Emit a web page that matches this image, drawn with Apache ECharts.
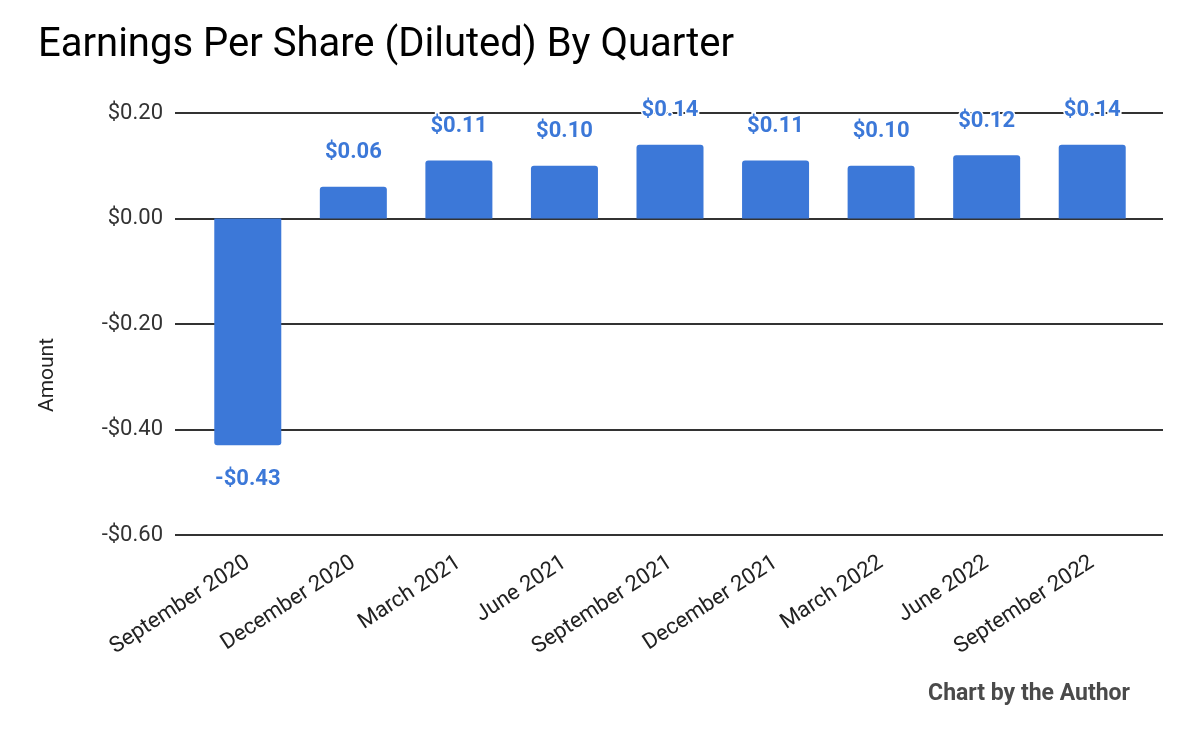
<!DOCTYPE html>
<html>
<head>
<meta charset="utf-8">
<script src="https://cdn.jsdelivr.net/npm/echarts@6/dist/echarts.min.js"></script>
<style>
  html, body { margin: 0; padding: 0; background: #fff; }
</style>
</head>
<body>
<div id="chart" style="width: 1200px; height: 742px;"></div>
<script>
// quarters and diluted EPS
const quarters = ['September 2020', 'December 2020', 'March 2021', 'June 2021', 'September 2021',
  'December 2021', 'March 2022', 'June 2022', 'September 2022'];
const eps = [-0.43, 0.06, 0.11, 0.10, 0.14, 0.11, 0.10, 0.12, 0.14];
const yMin = -0.6;
const yMax = 0.2;
const yStep = 0.2;

const blue = '#3c78d8';

function money(v) {
  const s = '$' + Math.abs(v).toFixed(2);
  return v < 0 ? '-' + s : s;
}

const myChart = echarts.init(document.getElementById('chart'));

const barData = eps.map(v => ({
  value: v,
  itemStyle: { borderRadius: v >= 0 ? [3, 3, 0, 0] : [0, 0, 3, 3] },
  label: { position: v >= 0 ? 'top' : 'bottom' }
}));

const option = {
  backgroundColor: '#fff',
  animation: false,
  title: [{
    text: 'Earnings Per Share (Diluted) By Quarter',
    left: 33,
    top: 21,
    textStyle: { fontFamily: 'Roboto', fontSize: 40, fontWeight: 'normal', color: '#000' }
  }, {
    text: 'Chart by the Author',
    right: 65,
    top: 678,
    textStyle: { fontFamily: 'Roboto', fontSize: 23, fontWeight: 'bold', color: '#4a4a4a' }
  }],
  graphic: [{
    // y axis title sits a bit below the middle of the plot
    type: 'text',
    x: 48,
    y: 375,
    rotation: Math.PI / 2,
    style: {
      text: 'Amount',
      fontFamily: 'Roboto',
      fontSize: 21,
      fill: '#222',
      align: 'center',
      verticalAlign: 'middle'
    }
  }],
  grid: [
    // wide grid only for the gridlines and y labels
    { left: 175, right: 37, top: 113, height: 422 },
    // inner grid holding the bars
    { left: 195, right: 55, top: 113, height: 422 }
  ],
  xAxis: [{
    gridIndex: 0,
    type: 'value',
    show: false
  }, {
    gridIndex: 1,
    type: 'category',
    data: quarters,
    axisLine: { show: false },
    axisTick: { show: false },
    axisLabel: {
      rotate: 33,
      margin: 26,
      interval: 0,
      fontFamily: 'Roboto',
      fontSize: 22,
      color: '#222'
    }
  }],
  yAxis: [{
    gridIndex: 0,
    type: 'value',
    min: yMin,
    max: yMax,
    interval: yStep,
    axisLine: { show: false },
    axisTick: { show: false },
    axisLabel: {
      margin: 12,
      fontFamily: 'Roboto',
      fontSize: 22,
      color: '#333',
      formatter: v => money(v)
    },
    splitLine: { lineStyle: { color: '#333', width: 2 } }
  }, {
    gridIndex: 1,
    type: 'value',
    min: yMin,
    max: yMax,
    interval: yStep,
    show: false,
    splitLine: { show: false }
  }],
  series: [{
    type: 'bar',
    xAxisIndex: 1,
    yAxisIndex: 1,
    data: barData,
    barWidth: 67,
    itemStyle: { color: blue },
    label: {
      show: true,
      distance: 23,
      fontFamily: 'Roboto',
      fontSize: 22,
      fontWeight: 'bold',
      color: blue,
      textBorderColor: '#fff',
      textBorderWidth: 3,
      formatter: p => money(p.value)
    }
  }]
};

myChart.setOption(option);
window.addEventListener('resize', myChart.resize);
</script>
</body>
</html>
